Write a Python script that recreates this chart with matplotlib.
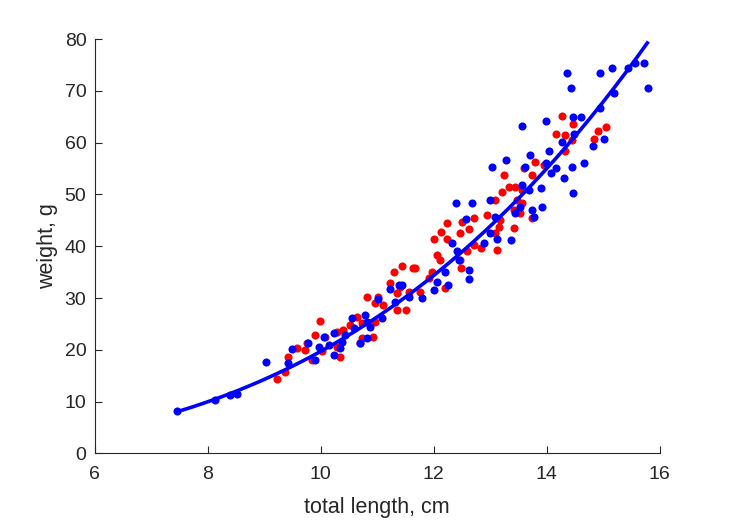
import numpy as np
import matplotlib.pyplot as plt

# total length (cm) and weight (g), two groups
red_len = [9.22, 9.36, 9.42,
           11.44, 11.29, 11.67, 11.23, 11.41, 11.35, 11.56, 10.82, 11.02, 10.96,
           11.11, 11.35, 11.50, 9.99, 10.64, 10.73, 10.96, 10.52, 10.40, 10.29,
           9.90, 10.08, 10.93, 10.73, 9.75, 9.58, 9.72, 10.02, 10.34, 9.84,
           10.29, 10.70,
           12.71, 12.50, 12.23, 12.12, 12.00, 12.23, 12.47, 12.62, 12.71, 12.83,
           13.12, 12.58, 12.05, 12.11, 12.46, 12.49, 11.64, 11.97, 11.92, 12.20,
           11.76,
           13.24, 13.60, 13.80, 13.74, 13.95, 13.33, 13.44, 13.56, 13.21, 13.09,
           13.47, 13.56, 13.42, 13.53, 12.94, 13.18, 13.74, 13.15, 13.09, 13.42,
           14.33,
           14.27, 14.47, 15.04, 14.91, 14.83, 14.17, 14.33, 14.45]
red_wt = [14.3, 15.8, 18.7,
          36.2, 35.1, 35.9, 32.9, 32.2, 30.9, 31.2, 30.3, 30.3, 29.0,
          28.7, 27.7, 27.7, 25.6, 26.4, 25.1, 25.4, 24.8, 23.8, 23.5,
          22.9, 22.5, 22.5, 22.2, 21.3, 20.3, 20.0, 19.7, 18.7, 18.0,
          20.6, 21.3,
          45.4, 44.7, 44.4, 42.8, 41.5, 41.5, 42.5, 43.3, 40.3, 39.6,
          39.3, 39.0, 38.3, 37.4, 37.4, 35.8, 35.8, 35.1, 33.8, 31.9,
          31.2,
          53.8, 55.1, 56.3, 53.8, 55.7, 51.5, 51.5, 50.9, 50.5, 48.9,
          48.9, 48.3, 47.0, 46.4, 46.0, 45.1, 45.4, 43.8, 42.5, 43.5,
          58.3,
          65.2, 63.7, 63.0, 62.3, 60.8, 61.6, 61.5, 60.6]

blue_len = [7.46, 8.13, 8.39, 8.51, 9.03, 9.42,
            11.38, 11.23, 11.02, 11.56, 11.32, 11.08, 10.79, 10.55, 10.82,
            10.88, 10.58, 10.43, 10.23, 10.05, 9.78, 9.96, 10.14, 10.34, 10.37,
            10.82, 10.70, 9.49, 9.90, 10.23,
            12.40, 12.67, 12.57, 13.12, 13.36, 12.89, 12.33, 12.41, 12.44, 12.62,
            12.62, 12.20, 12.05, 12.26, 12.00, 11.44, 11.79,
            13.56, 13.98, 14.04, 13.71, 13.62, 13.03, 13.27, 13.98, 14.16, 14.07,
            14.31, 14.45, 14.66, 14.47, 13.56, 13.68, 13.89, 13.00, 13.53, 13.74,
            13.92, 13.77, 13.44, 13.09, 13.00,
            15.72, 15.57, 15.43, 15.15, 14.94, 14.36, 14.43, 15.19, 15.79, 14.94,
            14.47, 14.60, 15.01, 14.81, 14.49, 14.27]
blue_wt = [8.2, 10.3, 11.3, 11.4, 17.7, 17.4,
           32.5, 31.7, 29.8, 30.3, 29.3, 26.1, 26.7, 26.1, 25.4,
           24.5, 24.2, 22.9, 23.2, 22.4, 21.3, 20.6, 20.9, 20.3, 21.6,
           22.2, 21.3, 20.1, 18.0, 19.0,
           48.3, 48.3, 45.2, 41.5, 41.2, 40.6, 40.6, 39.0, 37.4, 35.4,
           33.6, 35.1, 33.2, 32.5, 31.6, 32.5, 30.0,
           63.2, 64.1, 58.3, 57.6, 55.4, 55.4, 56.7, 56.0, 55.1, 54.1,
           53.1, 55.4, 56.0, 50.3, 51.8, 50.9, 51.2, 48.9, 47.6, 47.0,
           47.6, 45.7, 46.4, 45.7, 42.5,
           75.3, 75.3, 74.4, 74.4, 73.4, 73.4, 70.5, 69.5, 70.5, 66.6,
           65.0, 65.0, 60.8, 59.4, 61.7, 60.2]

# power-law fit W = a * L^b
fit_a = 0.01757
fit_b = 3.05
fit_range = [7.5, 15.78]

plt.rcParams['font.family'] = ['Liberation Sans', 'DejaVu Sans']
fig = plt.figure(figsize=(7.29, 5.21), dpi=100)
ax = fig.add_axes([0.130, 0.1296, 0.775, 0.7954])

ax.scatter(red_len, red_wt, s=34, color='red', linewidths=0, zorder=2)
ax.scatter(blue_len, blue_wt, s=34, color='blue', linewidths=0, zorder=3)

L = np.linspace(fit_range[0], fit_range[1], 200)
ax.plot(L, fit_a * L ** fit_b, color='blue', linewidth=2.6, zorder=4)

ax.set_xlim(6, 16)
ax.set_ylim(0, 80)
ax.set_xticks(range(6, 17, 2))
ax.set_yticks(range(0, 81, 10))
ax.set_xlabel('total length, cm', fontsize=15.5, color='#262626', labelpad=10)
ax.set_ylabel('weight, g', fontsize=15.5, color='#262626', labelpad=5)

for s in ['top', 'right']:
    ax.spines[s].set_visible(False)
for s in ['left', 'bottom']:
    ax.spines[s].set_color('#262626')
    ax.spines[s].set_linewidth(0.8)
ax.tick_params(direction='in', length=5, width=0.8, colors='#262626', labelsize=14)
ax.tick_params(axis='x', pad=9)
ax.tick_params(axis='y', pad=6)

fig.savefig('out.png', dpi=100)
